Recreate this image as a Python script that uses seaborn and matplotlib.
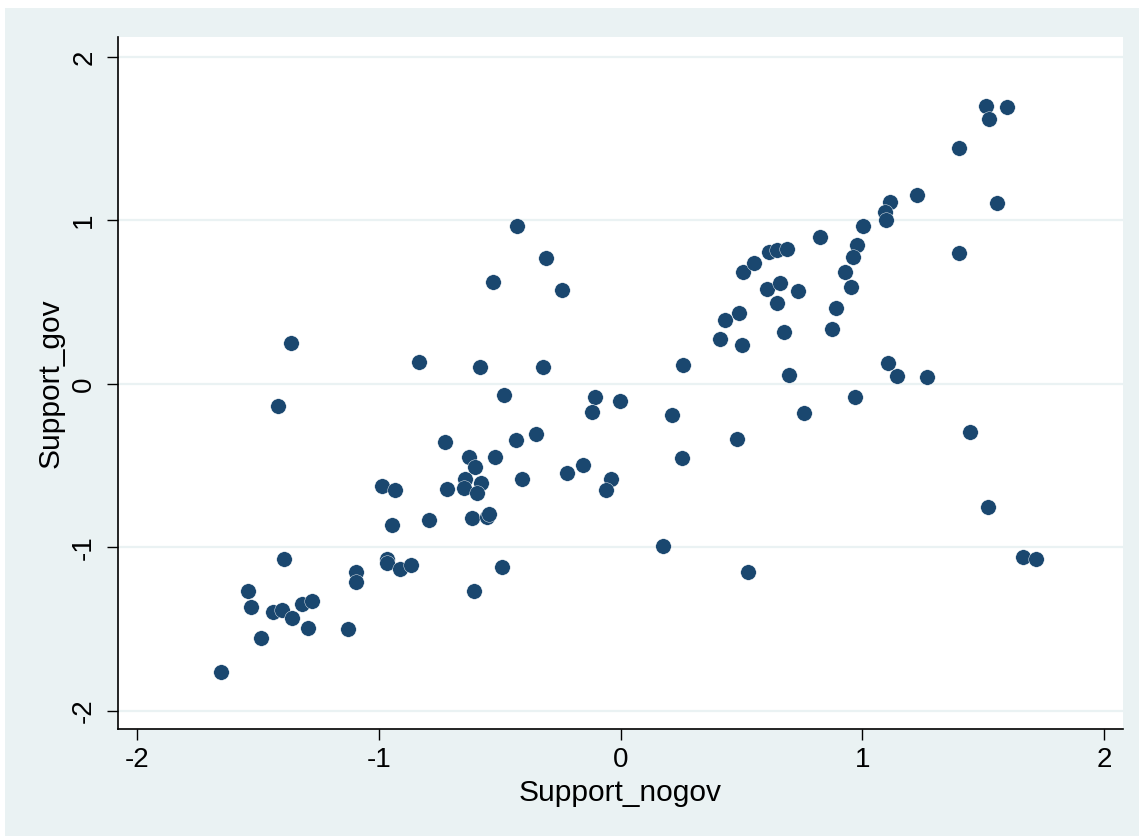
import matplotlib
matplotlib.use("Agg")
import matplotlib.pyplot as plt
import seaborn as sns
import pandas as pd
from matplotlib.patches import Rectangle

support_nogov = [
    -1.362, -1.416, -0.430, -0.307, -0.529, -0.243, 0.505, 0.554, 0.614, 0.648,
    0.690, 0.605, 0.659, 0.647, 0.492, 0.432, 0.412, 0.502, 0.676, -0.834,
    -0.582, -0.319, 0.259, -0.483, -0.106, -0.003, -0.116, 0.212, 1.513, 1.601,
    1.525, 1.402, 1.226, 1.117, 1.096, 1.099, 1.557, 1.005, 0.827, 0.979,
    0.960, 1.400, 0.927, 0.955, 0.735, 0.891, 0.876, 1.107, 1.146, 1.270,
    0.698, 0.972, 0.760, 1.444, 1.521, 1.664, 1.718, 0.481, 0.255, -0.725,
    -0.434, -0.349, -0.625, -0.600, -0.520, -0.154, -0.222, -0.407, -0.039, -0.059,
    -0.644, -0.579, -0.716, -0.648, -0.594, -0.985, -0.934, -0.793, -0.613, -0.551,
    -0.543, -0.947, 0.175, 0.529, -0.967, -0.968, -0.913, -0.866, -0.492, -0.605,
    -1.394, -1.093, -1.093, -1.542, -1.528, -1.437, -1.402, -1.361, -1.317, -1.278,
    -1.293, -1.128, -1.489, -1.652,
]
support_gov = [
    0.249, -0.137, 0.966, 0.773, 0.624, 0.575, 0.683, 0.738, 0.805, 0.820,
    0.826, 0.579, 0.620, 0.494, 0.432, 0.391, 0.273, 0.237, 0.318, 0.133,
    0.104, 0.106, 0.118, -0.067, -0.080, -0.104, -0.173, -0.190, 1.702, 1.692,
    1.621, 1.441, 1.156, 1.111, 1.054, 1.003, 1.109, 0.968, 0.901, 0.852,
    0.777, 0.801, 0.685, 0.593, 0.571, 0.463, 0.338, 0.128, 0.051, 0.043,
    0.053, -0.081, -0.179, -0.294, -0.750, -1.056, -1.070, -0.338, -0.453, -0.353,
    -0.341, -0.306, -0.444, -0.506, -0.446, -0.493, -0.546, -0.583, -0.583, -0.650,
    -0.581, -0.608, -0.644, -0.638, -0.669, -0.622, -0.646, -0.830, -0.822, -0.812,
    -0.797, -0.862, -0.991, -1.150, -1.068, -1.097, -1.134, -1.109, -1.117, -1.264,
    -1.072, -1.150, -1.209, -1.266, -1.362, -1.394, -1.382, -1.433, -1.344, -1.325,
    -1.492, -1.498, -1.552, -1.760,
]
tick_values = [-2, -1, 0, 1, 2]
tick_labels = ["-2", "-1", "0", "1", "2"]

df = pd.DataFrame({"Support_nogov": support_nogov, "Support_gov": support_gov})

sns.set_style("white")
plt.rcParams["font.family"] = ["Liberation Sans", "DejaVu Sans"]

BG = "#EAF2F3"
NAVY = "#1A476F"

fig = plt.figure(figsize=(11.39, 8.36), dpi=100, facecolor="white")
fig.patches.append(Rectangle((5 / 1139, 0), 1, (836 - 8) / 836,
                             transform=fig.transFigure, facecolor=BG,
                             edgecolor="none", zorder=-10))
ax = fig.add_axes([118 / 1139, (836 - 729) / 836, (1123 - 118) / 1139, (729 - 37) / 836])
ax.set_facecolor("white")

sns.scatterplot(data=df, x="Support_nogov", y="Support_gov", ax=ax,
                color=NAVY, s=125, edgecolor="white", linewidth=0.3, zorder=3)

ax.set_xlim(-2.079, 2.079)
ax.set_ylim(-2.11, 2.122)
ax.set_xticks(tick_values)
ax.set_xticklabels(tick_labels)
ax.set_yticks(tick_values)
ax.set_yticklabels(tick_labels, rotation=90, va="center")

ax.yaxis.grid(True, color=BG, linewidth=1.6, zorder=0)
ax.xaxis.grid(False)
ax.set_axisbelow(True)

for s in ["top", "right"]:
    ax.spines[s].set_visible(False)
for s in ["left", "bottom"]:
    ax.spines[s].set_color("black")
    ax.spines[s].set_linewidth(1.2)

ax.tick_params(axis="both", which="major", length=8, width=1, color="black",
               labelsize=20, labelcolor="black", direction="out")
ax.tick_params(axis="x", pad=5)
ax.tick_params(axis="y", pad=7)
ax.xaxis.set_ticks_position("bottom")
ax.yaxis.set_ticks_position("left")

ax.set_xlabel("Support_nogov", fontsize=21.5, color="black", labelpad=4)
ax.set_ylabel("Support_gov", fontsize=21.5, color="black", labelpad=5)

fig.savefig("out.png", dpi=100, facecolor=fig.get_facecolor())
